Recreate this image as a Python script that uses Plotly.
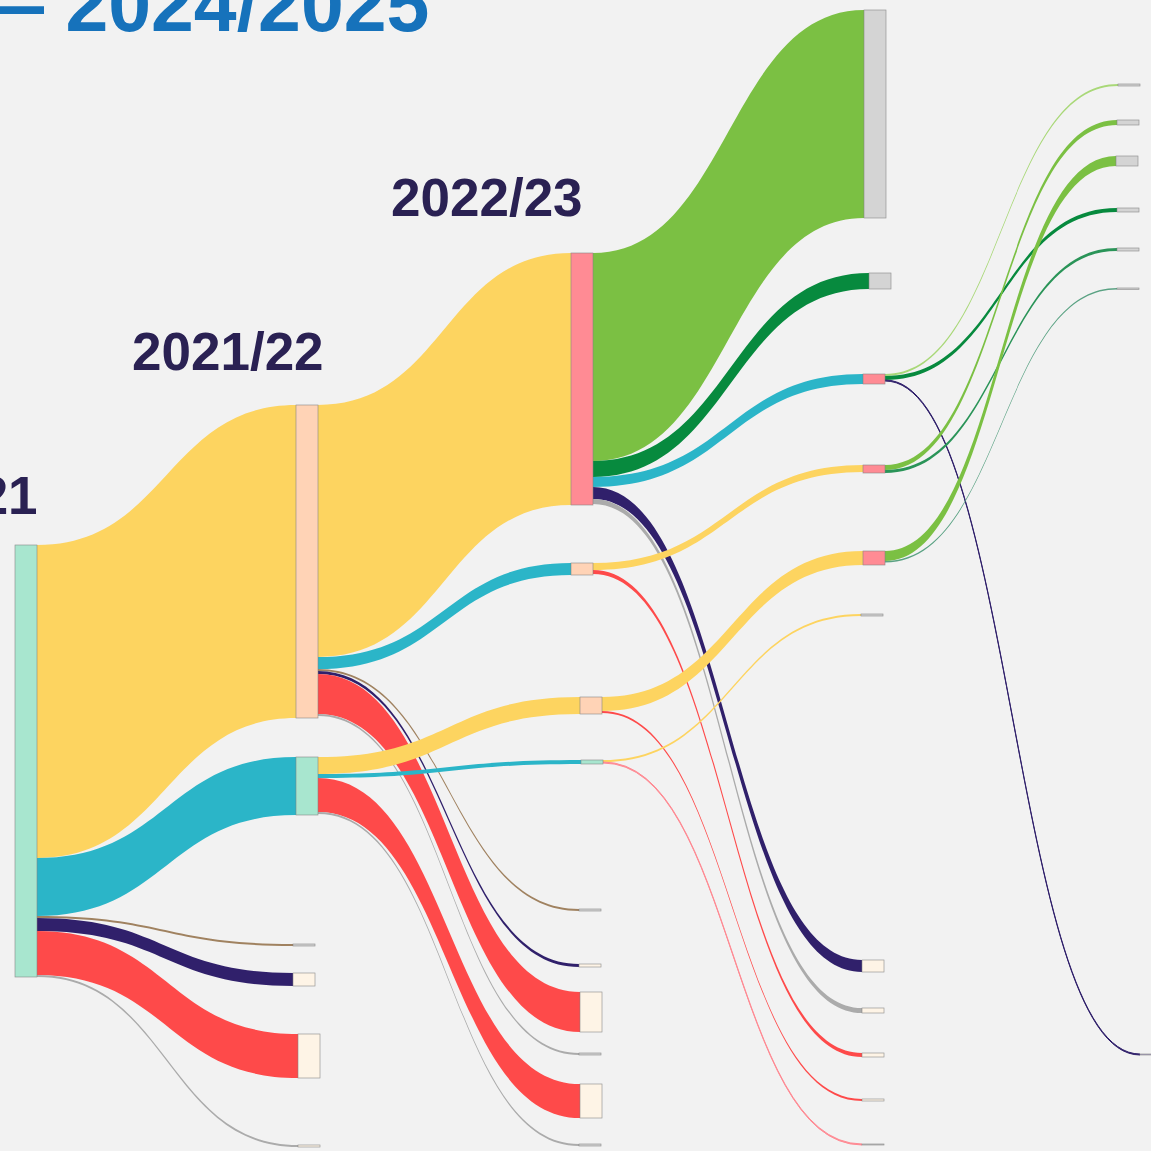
import plotly.graph_objects as go

W = H = 1151

# ---------------- data ----------------
node_names = ["C0", "P1", "M1", "E1a", "E1b", "E1c", "E1d",
              "P2", "Q2a", "Q2b", "M2", "E2a", "E2b", "E2c", "E2d", "E2e", "E2f",
              "G3", "G3b", "K3a", "K3b", "K3c", "G3c", "E3a", "E3b", "E3c", "E3d", "E3e",
              "A4", "B4", "C4", "D4", "E4", "F4", "R"]
node_kind = ["mint", "peach", "mint", "grey", "cream", "cream", "cream",
             "pink", "peach", "peach", "mint", "grey", "cream", "cream", "grey", "cream", "grey",
             "grey", "grey", "pink", "pink", "pink", "grey", "cream", "cream", "cream", "cream", "grey",
             "grey", "grey", "grey", "grey", "grey", "grey", "lav"]

link_source = ["C0", "C0", "C0", "C0", "C0", "C0",
               "P1", "P1", "P1", "P1", "P1", "P1",
               "M1", "M1", "M1", "M1",
               "P2", "P2", "P2", "P2", "P2",
               "Q2a", "Q2a",
               "Q2b", "Q2b",
               "M2", "M2",
               "K3a", "K3a", "K3a",
               "K3b", "K3b",
               "K3c", "K3c"]
link_target = ["P1", "M1", "E1a", "E1b", "E1c", "E1d",
               "P2", "Q2a", "E2a", "E2b", "E2c", "E2d",
               "Q2b", "M2", "E2e", "E2f",
               "G3", "G3b", "K3a", "E3a", "E3b",
               "K3b", "E3c",
               "K3c", "E3d",
               "G3c", "E3e",
               "A4", "D4", "R",
               "B4", "E4",
               "C4", "F4"]
link_value = [313, 58, 2, 13, 44, 2,
              252, 12, 2, 3, 40, 2,
              17, 4, 34, 2,
              208, 16, 10, 12, 5,
              7, 4,
              14, 2,
              2, 1,
              2, 4, 1,
              5, 3,
              10, 1.5]
link_kind = ["yellow", "teal", "brown", "purple", "red", "grey",
             "yellow", "teal", "brown", "purple", "red", "grey",
             "yellow", "teal", "red", "grey",
             "lgreen", "dgreen", "teal", "purple", "grey",
             "yellow", "red",
             "yellow", "red",
             "yellow", "pink",
             "pale", "dgreen", "purple",
             "lgreen", "mgreen",
             "lgreen", "tgreen"]

column_titles = ["2020/21", "2021/22", "2022/23"]
top_title = "\u2014 2024/2025"

# ---------------- styles / layout ----------------
node_colors = {"mint": "#a8e6cf", "peach": "#ffd3b6", "pink": "#ff8b94",
               "cream": "#fef4e6", "grey": "#d4d4d4", "lav": "#b9aed6"}
link_colors = {"yellow": "#fdd460", "teal": "#2bb5c8", "red": "#fe4a4a",
               "purple": "#30206b", "brown": "#a08260", "grey": "#ababab",
               "lgreen": "#7bc043", "dgreen": "#078a3e", "pale": "#a9d878",
               "mgreen": "#2a9458", "tgreen": "#5aa283", "pink": "#ff8b94"}

# node center x and top y in pixels (layout only)
node_cx = {"C0": 26, "P1": 307, "M1": 307, "E1a": 304, "E1b": 304, "E1c": 309, "E1d": 309,
           "P2": 582, "Q2a": 582, "Q2b": 591, "M2": 592, "E2a": 590, "E2b": 590, "E2c": 591,
           "E2d": 590, "E2e": 591, "E2f": 590,
           "G3": 875, "G3b": 880, "K3a": 874, "K3b": 874, "K3c": 874, "G3c": 872,
           "E3a": 873, "E3b": 873, "E3c": 873, "E3d": 873, "E3e": 873,
           "A4": 1129, "B4": 1128, "C4": 1127, "D4": 1128, "E4": 1128, "F4": 1128, "R": 1151}
node_top = {"C0": 545, "P1": 405, "M1": 757, "E1a": 944, "E1b": 973, "E1c": 1034, "E1d": 1145,
            "P2": 253, "Q2a": 563, "Q2b": 697, "M2": 760, "E2a": 909, "E2b": 964, "E2c": 992,
            "E2d": 1053, "E2e": 1084, "E2f": 1144,
            "G3": 10, "G3b": 273, "K3a": 374, "K3b": 465, "K3c": 551, "G3c": 614,
            "E3a": 960, "E3b": 1008, "E3c": 1053, "E3d": 1099, "E3e": 1144,
            "A4": 84, "B4": 120, "C4": 156, "D4": 208, "E4": 248, "F4": 288, "R": 1054}

idx = {n: i for i, n in enumerate(node_names)}
inflow = {n: 0.0 for n in node_names}
outflow = {n: 0.0 for n in node_names}
for s, t, v in zip(link_source, link_target, link_value):
    outflow[s] += v
    inflow[t] += v
node_val = {n: max(inflow[n], outflow[n]) for n in node_names}

xs = [node_cx[n] / W for n in node_names]
ys = [(node_top[n] + node_val[n] / 2) / H for n in node_names]
ncol = [node_colors[k] for k in node_kind]

src = [idx[s] for s in link_source]
tgt = [idx[t] for t in link_target]
vals = list(link_value)
lcol = [link_colors[k] for k in link_kind]

# hidden helper pair (off-canvas) so that one value unit equals one pixel
first_col = outflow["C0"]
pad_val = H - first_col
d0 = len(node_names)
d1 = d0 + 1
xs += [0.3, 0.35]
ys += [4.0, 4.0]
ncol += ["rgba(0,0,0,0)", "rgba(0,0,0,0)"]
src.append(d0)
tgt.append(d1)
vals.append(pad_val)
lcol.append("rgba(0,0,0,0)")

fig = go.Figure(go.Sankey(
    arrangement="fixed",
    domain=dict(x=[0, 1], y=[0, 1]),
    node=dict(
        label=[""] * len(xs),
        x=xs, y=ys,
        color=ncol,
        pad=0,
        thickness=22,
        align="left",
        line=dict(color="rgba(130,130,130,0.8)", width=0.7),
        hoverinfo="skip",
    ),
    link=dict(source=src, target=tgt, value=vals, color=lcol, hoverinfo="skip"),
))

title_font = dict(family="Liberation Sans, Arial, sans-serif", size=53, color="#2a2153", weight="bold")
anns = [
    dict(text=column_titles[0], x=40 / W, y=1 - 495 / H, xanchor="right", yanchor="middle"),
    dict(text=column_titles[1], x=228 / W, y=1 - 351 / H, xanchor="center", yanchor="middle"),
    dict(text=column_titles[2], x=487 / W, y=1 - 198 / H, xanchor="center", yanchor="middle"),
]
for a in anns:
    a.update(xref="paper", yref="paper", showarrow=False, font=title_font)
anns.append(dict(text=top_title, x=431 / W, y=1 - 4 / H, xref="paper", yref="paper",
                 xanchor="right", yanchor="middle", showarrow=False,
                 font=dict(family="Liberation Sans, Arial, sans-serif", size=77,
                           color="#1672bb", weight="bold")))

fig.update_layout(
    width=W, height=H,
    margin=dict(l=0, r=0, t=0, b=0),
    paper_bgcolor="#f2f2f2",
    plot_bgcolor="#f2f2f2",
    annotations=anns,
    showlegend=False,
)

fig.write_html("out.html", config={"displayModeBar": False},
               post_script="document.body.style.margin='0';document.body.style.overflow='hidden';")
